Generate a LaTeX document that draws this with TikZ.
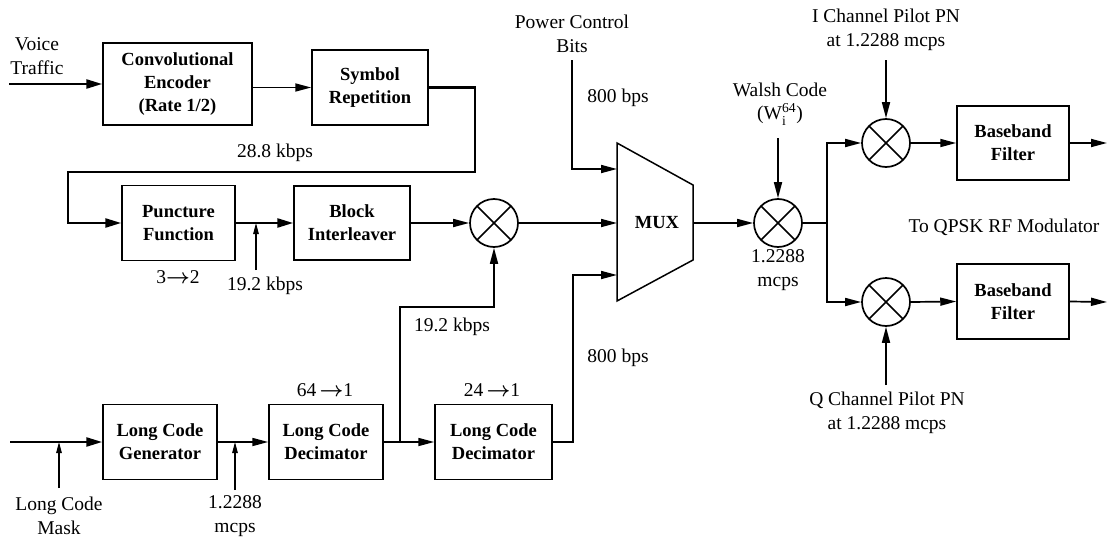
\documentclass[tikz,border=0pt]{standalone}
\usepackage{amsmath}
\usepackage{fontspec}
\setmainfont{Liberation Serif}
\usetikzlibrary{arrows.meta}
\newcommand\myfs{\fontsize{18.5}{23}\selectfont}
\newcommand\mylfs{\fontsize{19.5}{23.5}\selectfont}
\begin{document}
\begin{tikzpicture}[x=1pt,y=-1pt,
  blk/.style={draw,line width=1.5pt,font=\myfs\bfseries,align=center,inner sep=0pt},
  lbl/.style={font=\mylfs,align=center,inner sep=0pt},
  mult/.style={draw,circle,line width=1.7pt,minimum size=48pt,inner sep=0pt,
    path picture={\draw[line width=1.7pt] (path picture bounding box.north west) -- (path picture bounding box.south east)
      (path picture bounding box.north east) -- (path picture bounding box.south west);}},
  ln/.style={line width=1.7pt},
  arr/.style={ln,-{Triangle[length=16pt,width=8pt]}},
  tarr/.style={line width=2.5pt,-{Triangle[length=16pt,width=9pt]}},
  narr/.style={line width=1.1pt,-{Triangle[length=11pt,width=5.5pt]}}
]
\useasboundingbox (0,0) rectangle (1109,538);

% blocks
\node[blk,minimum width=149pt,minimum height=82pt] (conv) at (177.5,84) {Convolutional\\Encoder\\(Rate 1/2)};
\node[blk,minimum width=116pt,minimum height=75pt] (sym) at (370,87.5) {Symbol\\Repetition};
\node[blk,minimum width=113pt,minimum height=75pt] (punc) at (178.5,223) {Puncture\\Function};
\node[blk,minimum width=116pt,minimum height=74pt] (bi) at (352,223) {Block\\Interleaver};
\node[blk,minimum width=112pt,minimum height=74pt] (bf1) at (1013,143) {Baseband\\Filter};
\node[blk,minimum width=112pt,minimum height=75pt] (bf2) at (1013,301.5) {Baseband\\Filter};
\node[blk,minimum width=114pt,minimum height=75pt] (lcg) at (160,442) {Long Code\\Generator};
\node[blk,minimum width=114pt,minimum height=75pt] (lcd1) at (326,442) {Long Code\\Decimator};
\node[blk,minimum width=117pt,minimum height=75pt] (lcd2) at (493.5,442) {Long Code\\Decimator};

% MUX
\draw[line width=1.5pt] (617,143) -- (693,185) -- (693,260) -- (617,301) -- cycle;
\node[font=\myfs\bfseries,inner sep=0pt] (mux) at (657,223) {MUX};
\coordinate (muxA) at (617,169);
\coordinate (muxB) at (617,223);
\coordinate (muxC) at (617,275);
\coordinate (muxO) at (693,223);

% multipliers
\node[mult] (m1) at (494,223) {};
\node[mult] (m2) at (778,223) {};
\node[mult] (mI) at (886,143) {};
\node[mult] (mQ) at (886,302) {};

% labels
\node[lbl] (vt) at (37,56) {Voice\\Traffic};
\node[lbl] (r288) at (275,153) {28.8 kbps};
\node[lbl] (r32) at (178,277) {3$\boldsymbol{\rightarrow}$2};
\node[lbl] (r192a) at (265,286) {19.2 kbps};
\node[lbl] (pcb) at (572,34) {Power Control\\Bits};
\node[lbl] (b800a) at (618,98) {800 bps};
\node[lbl] (b800b) at (618,358) {800 bps};
\node[lbl] (walsh) at (780,104) {Walsh Code\\(W$^{\text{64}}_{\text{i}}$)};
\node[lbl] (mc1) at (778,270) {1.2288\\mcps};
\node[lbl] (ipn) at (886,30) {I Channel Pilot PN\\at 1.2288 mcps};
\node[lbl] (qpsk) at (1004,227) {To QPSK RF Modulator};
\node[lbl] (qpn) at (887,413) {Q Channel Pilot PN\\at 1.2288 mcps};
\node[lbl] (lcm) at (59,516) {Long Code\\Mask};
\node[lbl] (mc2) at (235,516) {1.2288\\mcps};
\node[lbl] (r641) at (325,390) {64\,$\boldsymbol{\rightarrow}$1};
\node[lbl] (r241) at (492,390) {24\,$\boldsymbol{\rightarrow}$1};
\node[lbl] (r192b) at (452,327) {19.2 kbps};

% free-end coordinates
\coordinate (vin) at (9,84);
\coordinate (loopA) at (475,87.5);
\coordinate (loopB) at (68,172);
\coordinate (r192t) at (256,270);
\coordinate (r192h) at (256,223);
\coordinate (pcbt) at (572,60);
\coordinate (wt) at (778,138);
\coordinate (sp) at (827,223);
\coordinate (ipt) at (886,60);
\coordinate (qpt) at (886,385);
\coordinate (o1) at (1107,143);
\coordinate (o2) at (1107,302);
\coordinate (lcin) at (10,442);
\coordinate (lmt) at (59,488);
\coordinate (lmh) at (59,442);
\coordinate (mct) at (235,490);
\coordinate (mch) at (235,442);
\coordinate (br) at (400,442);
\coordinate (brt) at (400,307);
\coordinate (l2) at (573,442);

% connectors
\draw[tarr] (vin) -- (conv.west);
\draw[arr] (conv.east |- sym.west) -- (sym.west);
\draw[tarr] (sym.east) -- (loopA) |- (loopB) |- (punc.west);
\draw[tarr] (punc.east) -- (bi.west);
\draw[narr] (r192t) -- (r192h);
\draw[arr] (bi.east) -- (m1.west);
\draw[arr] (m1.east) -- (muxB);
\draw[arr] (pcbt) |- (muxA);
\draw[arr] (muxO) -- (m2.west);
\draw[arr] (wt) -- (m2.north);
\draw[ln] (m2.east) -- (sp);
\draw[arr] (sp) |- (mI.west);
\draw[arr] (sp) |- (mQ.west);
\draw[arr] (ipt) -- (mI.north);
\draw[arr] (qpt) -- (mQ.south);
\draw[arr] (mI.east) -- (bf1.west);
\draw[arr] (mQ.east) -- (bf2.west);
\draw[arr] (bf1.east) -- (o1);
\draw[arr] (bf2.east) -- (o2);
\draw[tarr] (lcin) -- (lcg.west);
\draw[narr] (lmt) -- (lmh);
\draw[arr] (lcg.east) -- (lcd1.west);
\draw[narr] (mct) -- (mch);
\draw[ln] (lcd1.east) -- (br);
\draw[arr] (br) -- (lcd2.west);
\draw[arr] (br) -- (brt) -| (m1.south);
\draw[arr] (lcd2.east) -- (l2) |- (muxC);
\end{tikzpicture}
\end{document}
